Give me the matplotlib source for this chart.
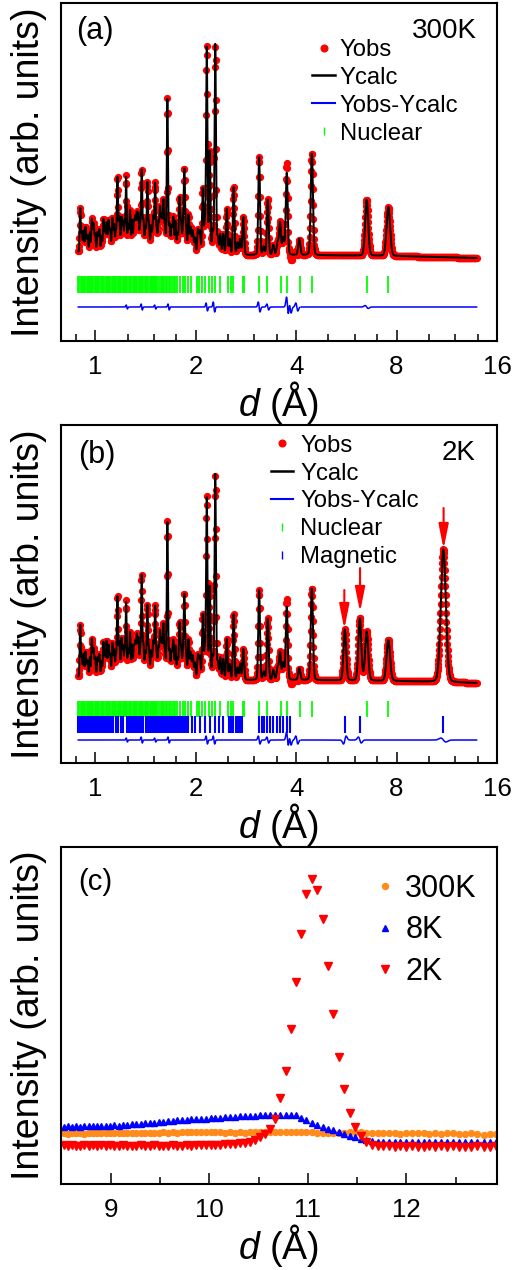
import numpy as np
import matplotlib
matplotlib.use("Agg")
import matplotlib.pyplot as plt
from matplotlib.lines import Line2D
from matplotlib.ticker import FixedLocator, FixedFormatter, NullFormatter

plt.rcParams['font.family'] = ['Liberation Sans', 'DejaVu Sans']
plt.rcParams['mathtext.fontset'] = 'custom'
plt.rcParams['mathtext.it'] = 'Liberation Sans:italic'
plt.rcParams['mathtext.rm'] = 'Liberation Sans'

# ---- panels (a)/(b): Rietveld fits, d-spacing in Angstrom ----
# main reflections: position, height at 300 K, height at 2 K
peak_d = [0.902, 0.923, 0.977, 1.000, 1.059, 1.082, 1.166, 1.200, 1.238, 1.273,
          1.333, 1.379, 1.434, 1.513, 1.565, 1.600, 1.646, 1.716, 1.789, 1.850,
          1.904, 1.962, 2.100, 2.160, 2.205, 2.290, 2.370, 2.480, 2.600, 2.780,
          3.100, 3.290, 3.580, 3.660, 3.750, 4.090, 4.460, 6.510, 7.560]
peak_300K = [44, 22, 30, 18, 22, 30, 74, 30, 75, 39,
             39, 80, 70, 67, 45, 49, 154, 32, 50, 80,
             39, 22, 65, 208, 102, 210, 20, 46, 68, 38,
             98, 56, 33, 17, 82, 16, 102, 56, 49]
peak_2K = [52, 24, 35, 19, 24, 37, 80, 34, 75, 42,
           42, 100, 72, 69, 46, 50, 156, 34, 50, 80,
           39, 22, 64, 182, 92, 205, 22, 41, 66, 31,
           90, 62, 28, 17, 73, 12, 92, 49, 41]
# magnetic peaks appearing at 2 K
mag_peak_d = [5.60, 6.21, 11.05]
mag_peak_2K = [51, 62, 133]
# weak overlapping reflections (low-d "forest")
weak_d = [0.912, 0.935, 0.950, 0.964, 0.990, 1.015, 1.030, 1.045, 1.070, 1.095,
          1.110, 1.125, 1.140, 1.153, 1.182, 1.212, 1.225, 1.255, 1.290, 1.305,
          1.320, 1.347, 1.362, 1.395, 1.412, 1.450, 1.470, 1.492, 1.530, 1.548,
          1.582, 1.620, 1.670, 1.692, 1.740, 1.765, 1.810, 1.832, 1.875, 1.930,
          1.990, 2.030, 2.060, 2.130, 2.250, 2.330, 2.420, 2.530, 2.670, 2.720,
          3.200, 3.420, 3.520]
weak_h = [20, 24, 16, 20, 26, 18, 22, 16, 24, 28,
          20, 32, 26, 20, 32, 30, 24, 26, 32, 24,
          30, 38, 22, 32, 20, 28, 24, 32, 22, 30,
          36, 22, 28, 24, 32, 20, 26, 22, 18, 24,
          16, 22, 20, 28, 22, 16, 20, 15, 12, 16,
          8, 10, 12]
weak2_d = [0.942, 0.983, 1.022, 1.058, 1.102, 1.132, 1.174, 1.194, 1.265, 1.312,
           1.370, 1.420, 1.480, 1.502, 1.610, 1.705, 1.798, 1.862, 1.945, 2.045]
weak2_h = [10, 12, 10, 12, 14, 10, 12, 10, 12, 14,
           10, 12, 10, 12, 10, 12, 10, 12, 8, 8]
# background knots
bg_d = [0.89, 1.5, 2.8, 4.1, 4.15, 8.0, 14.0]
bg_h = [6, 5, 3, 3, 3, 2, 0]
# Yobs-Ycalc misfits: position, amplitude
res_d_300K = [1.244, 1.379, 1.513, 1.66, 2.16, 2.27, 3.10, 3.29, 3.77, 3.84, 4.02, 6.51]
res_a_300K = [2, 3, 2, 3, 4, 5, 5, 3, 10, 6, 4, 1.5]
res_d_2K = [1.244, 1.379, 1.513, 1.66, 2.16, 2.27, 3.10, 3.29, 3.77, 3.84, 4.02, 5.60, 6.21, 11.05]
res_a_2K = [2, 3, 2, 3, 4, 4, 4, 3, 8, 5, 4, -4, 3, 2]
bank_gap = [4.10, 4.14]

# Bragg reflection markers
nuclear_d = [0.889, 0.897, 0.905, 0.912, 0.919, 0.927, 0.934, 0.942, 0.949, 0.957,
             0.964, 0.972, 0.980, 0.988, 0.996, 1.004, 1.013, 1.021, 1.030, 1.038,
             1.047, 1.056, 1.065, 1.074, 1.083, 1.092, 1.101, 1.110, 1.120, 1.129,
             1.139, 1.148, 1.158, 1.168, 1.178, 1.188, 1.198, 1.208, 1.218, 1.228,
             1.238, 1.246, 1.262, 1.272, 1.283, 1.294, 1.305, 1.316, 1.327, 1.338,
             1.349, 1.361, 1.372, 1.384, 1.395, 1.407, 1.418, 1.430, 1.441,
             1.455, 1.468, 1.478, 1.489, 1.500, 1.513, 1.525, 1.537, 1.558, 1.571,
             1.584, 1.596, 1.610, 1.632, 1.645, 1.659, 1.678, 1.697, 1.717, 1.736,
             1.764, 1.797, 1.830, 1.861, 1.904, 1.939, 2.017, 2.053, 2.087, 2.136,
             2.186, 2.236, 2.288, 2.368, 2.509, 2.549, 2.596, 2.770, 2.795, 3.099,
             3.283, 3.600, 3.751, 4.112, 4.457, 6.51, 7.56]
magnetic_d = [0.889, 0.898, 0.907, 0.916, 0.925, 0.934, 0.943, 0.952, 0.962, 0.972,
              0.982, 0.992, 1.002, 1.012, 1.022, 1.032, 1.042, 1.052, 1.063, 1.074,
              1.085, 1.096, 1.107, 1.114, 1.134, 1.156, 1.174, 1.196, 1.215, 1.244,
              1.258, 1.270, 1.283, 1.297, 1.310, 1.322, 1.336, 1.350, 1.365, 1.380,
              1.395, 1.420, 1.433, 1.446, 1.459, 1.472, 1.486, 1.500, 1.514, 1.528,
              1.542, 1.556, 1.568, 1.584, 1.603, 1.620, 1.640, 1.660, 1.677, 1.700,
              1.718, 1.740, 1.760, 1.785, 1.805, 1.830, 1.850, 1.875, 1.900, 1.948,
              1.992, 2.060, 2.136, 2.210, 2.288, 2.357, 2.420, 2.520, 2.560, 2.596,
              2.640, 2.687, 2.716, 2.745, 3.100, 3.156, 3.210, 3.270, 3.330, 3.420,
              3.500, 3.580, 3.660, 3.750, 3.840, 5.60, 6.21, 11.05]
arrow_d = [5.58, 6.22, 11.07]
arrow_tail = [93, 115, 175]
arrow_tip = [54, 71, 134]

x_ticks = [1, 2, 4, 8, 16]
x_minor = [0.875, 1.25, 1.5, 1.75, 2.5, 3, 3.5, 5, 6, 7, 10, 12, 14]

# ---- panel (c): zoom on the magnetic peak ----
c_d = [8.520, 8.562, 8.604, 8.646, 8.688, 8.731, 8.774, 8.817, 8.860, 8.903,
       8.947, 8.991, 9.035, 9.079, 9.124, 9.168, 9.213, 9.259, 9.304, 9.350,
       9.395, 9.441, 9.488, 9.534, 9.581, 9.628, 9.675, 9.722, 9.770, 9.818,
       9.866, 9.914, 9.963, 10.012, 10.061, 10.110, 10.160, 10.210, 10.260, 10.310,
       10.360, 10.411, 10.462, 10.513, 10.565, 10.617, 10.669, 10.721, 10.774, 10.826,
       10.879, 10.933, 10.986, 11.040, 11.094, 11.149, 11.203, 11.258, 11.313, 11.369,
       11.424, 11.480, 11.537, 11.593, 11.650, 11.707, 11.764, 11.822, 11.880, 11.938,
       11.997, 12.056, 12.115, 12.174, 12.234, 12.294, 12.354, 12.414, 12.475, 12.536,
       12.598, 12.659, 12.721, 12.784, 12.846, 12.909]
c_300K = [50.7, 50.4, 50.9, 50.6, 51.0, 50.5, 50.8, 51.1, 50.6, 50.9,
          51.0, 50.7, 51.2, 50.8, 51.1, 50.6, 51.0, 51.3, 50.9, 51.2,
          51.0, 51.4, 51.1, 51.6, 51.3, 51.8, 51.5, 51.9, 51.6, 52.0,
          51.7, 52.1, 51.8, 52.2, 51.6, 51.9, 51.5, 51.8, 51.4, 51.7,
          51.5, 51.9, 51.6, 52.0, 51.8, 52.2, 51.9, 52.3, 52.0, 52.2,
          51.9, 52.1, 51.8, 51.6, 51.3, 51.0, 50.8, 50.6, 50.9, 51.5,
          51.9, 52.2, 51.8, 51.4, 51.0, 50.7, 51.0, 50.6, 50.9, 50.5,
          50.8, 51.0, 50.6, 50.9, 50.5, 50.8, 50.4, 50.7, 50.9, 50.5,
          50.2, 50.6, 49.9, 49.5, 49.8, 49.6]
c_8K = [57.3, 57.6, 57.2, 57.8, 57.5, 57.9, 58.1, 57.8, 58.3, 58.0,
        58.4, 58.2, 58.7, 58.5, 59.0, 59.3, 59.6, 59.9, 60.3, 60.6,
        61.0, 61.4, 61.9, 62.3, 62.8, 63.2, 63.7, 64.0, 64.3, 64.6,
        64.8, 65.1, 65.4, 65.8, 66.0, 66.4, 66.7, 67.0, 67.4, 67.6,
        67.9, 68.2, 68.4, 68.6, 68.9, 69.3, 69.5, 69.4, 69.2, 69.3,
        68.8, 66.5, 64.0, 61.5, 59.2, 57.3, 55.5, 53.6, 51.7, 49.8,
        48.0, 46.6, 45.2, 44.0, 43.0, 42.4, 42.1, 42.3, 41.9, 42.2,
        42.0, 42.3, 41.8, 42.1, 42.4, 41.9, 42.2, 42.0, 41.8, 42.2,
        42.0, 41.7, 42.1, 41.9, 42.2, 41.8]
c_2K = [38.8, 38.3, 38.9, 38.5, 38.2, 38.7, 38.4, 38.9, 38.3, 38.6,
        38.2, 38.7, 38.4, 38.0, 38.6, 38.3, 38.5, 38.1, 38.7, 38.4,
        38.2, 38.6, 38.3, 38.5, 38.1, 38.7, 38.4, 38.2, 38.8, 38.5,
        38.6, 38.9, 38.7, 39.2, 39.0, 39.4, 39.7, 40.0, 40.4, 40.9,
        41.5, 42.3, 44.5, 47.0, 50.5, 55.0, 65.5, 86.0, 113.0, 155.0,
        202.0, 250.0, 290.0, 305.0, 294.0, 265.0, 218.0, 170.0, 127.0, 95.0,
        71.5, 57.3, 48.5, 42.5, 39.5, 38.3, 37.6, 37.9, 37.4, 37.8,
        37.3, 37.7, 37.5, 37.2, 37.8, 37.4, 37.6, 37.1, 37.7, 37.3,
        37.5, 37.2, 37.8, 37.4, 37.1, 37.6]
c_ticks = [9, 10, 11, 12]
c_minor = [9.5, 10.5, 11.5, 12.5]

RED = '#ff0000'
GREEN = '#00ff00'
BLUE = '#0000ff'
ORANGE = '#ff8c1a'


def sigma(c):
    c = np.asarray(c, dtype=float)
    return np.sqrt(0.008 ** 2 + (0.0036 * c) ** 2) / 2.3548


def profile(d, centers, heights, lor=0.1):
    c = np.asarray(centers, dtype=float)[None, :]
    h = np.asarray(heights, dtype=float)[None, :]
    u = np.log(d[:, None] / c) / sigma(c)
    shape = (1 - lor) * np.exp(-0.5 * u ** 2) + lor / (1 + (u / 1.1774) ** 2)
    return (h * shape).sum(axis=1)


def misfit(d, centers, amps):
    c = np.asarray(centers, dtype=float)[None, :]
    a = np.asarray(amps, dtype=float)[None, :]
    u = np.log(d[:, None] / c) / sigma(c)
    return (a * (-u) * np.exp(-0.5 * u ** 2) / 0.6065).sum(axis=1)


d = np.geomspace(0.89, 13.9, 1400)
bg = np.interp(np.log(d), np.log(bg_d), bg_h)
forest = profile(d, weak_d, weak_h, lor=0.0) + profile(d, weak2_d, weak2_h, lor=0.0)

calc_300K = bg + profile(d, peak_d, peak_300K) + forest
calc_2K = bg + profile(d, peak_d, peak_2K) + forest + profile(d, mag_peak_d, mag_peak_2K)
diff_300K = misfit(d, res_d_300K, res_a_300K)
diff_2K = misfit(d, res_d_2K, res_a_2K)
obs_300K = calc_300K + diff_300K
obs_2K = calc_2K + diff_2K
gap = (d > bank_gap[0]) & (d < bank_gap[1])
diff_300K[gap] = np.nan
diff_2K[gap] = np.nan

fig = plt.figure(figsize=(5.14, 12.70), dpi=100)
ax_a = fig.add_axes([0.1187, 0.7315, 0.8482, 0.2661])
ax_b = fig.add_axes([0.1187, 0.3992, 0.8482, 0.2661])
ax_c = fig.add_axes([0.1187, 0.0677, 0.8482, 0.2654])

LABEL_FS = 27
TICK_FS = 18.6
LEG_FS = 17.2


def style_axes(ax):
    for sp in ax.spines.values():
        sp.set_linewidth(1.5)
    ax.set_yticks([])
    ax.tick_params(axis='x', which='major', direction='in', length=8, width=1.1,
                   labelsize=TICK_FS, pad=10, top=False)
    ax.tick_params(axis='x', which='minor', direction='in', length=5, width=1.1, top=False)
    ax.set_ylabel('Intensity (arb. units)', fontsize=LABEL_FS)
    ax.yaxis.set_label_coords(-0.032, 0.5)
    ax.set_xlabel(r'$\mathit{d}$ (Å)', fontsize=LABEL_FS, labelpad=0)


def pattern_axes(ax, obs, calc, diff, diff_off, ylim):
    ax.set_xscale('log', base=2)
    ax.plot(d, obs, 'o', ls='none', ms=4.2, color=RED, mec=RED, zorder=2)
    ax.plot(d, calc, '-', color='black', lw=1.4, zorder=3)
    ax.plot(d, diff + diff_off, '-', color=BLUE, lw=1.1, zorder=3)
    ax.set_xlim(0.79, 16)
    ax.set_ylim(*ylim)
    ax.xaxis.set_major_locator(FixedLocator(x_ticks))
    ax.xaxis.set_major_formatter(FixedFormatter([str(t) for t in x_ticks]))
    ax.xaxis.set_minor_locator(FixedLocator(x_minor))
    ax.xaxis.set_minor_formatter(NullFormatter())
    style_axes(ax)


h_obs = Line2D([], [], ls='none', marker='o', ms=4.8, color=RED)
h_calc = Line2D([], [], color='black', lw=1.8)
h_diff = Line2D([], [], color=BLUE, lw=1.5)
h_nuc = Line2D([], [], ls='none', marker='|', ms=6, mew=1.0, color=GREEN)
h_mag = Line2D([], [], ls='none', marker='|', ms=6, mew=1.0, color=BLUE)

# (a) 300 K
pattern_axes(ax_a, obs_300K, calc_300K, diff_300K, -49, (-83, 255))
ax_a.vlines(nuclear_d, -35, -18, color=GREEN, lw=1.3, zorder=2)
ax_a.legend([h_obs, h_calc, h_diff, h_nuc], ['Yobs', 'Ycalc', 'Yobs-Ycalc', 'Nuclear'],
            loc='upper left', bbox_to_anchor=(0.576, 0.894), frameon=False,
            fontsize=LEG_FS, borderpad=0, borderaxespad=0, handlelength=0.96,
            handletextpad=0.2, labelspacing=0.25)
ax_a.text(0.078, 0.917, '(a)', transform=ax_a.transAxes, fontsize=22,
          ha='center', va='center')
ax_a.text(0.954, 0.917, '300K', transform=ax_a.transAxes, fontsize=20,
          ha='right', va='center')

# (b) 2 K
pattern_axes(ax_b, obs_2K, calc_2K, diff_2K, -57, (-80, 258))
ax_b.vlines(nuclear_d, -34, -18, color=GREEN, lw=1.3, zorder=2)
ax_b.vlines(magnetic_d, -50, -33, color=BLUE, lw=1.5, zorder=2)
for xd, y0, y1 in zip(arrow_d, arrow_tail, arrow_tip):
    ax_b.annotate('', xy=(xd, y1), xytext=(xd, y0),
                  arrowprops=dict(arrowstyle='-|>,head_length=0.75,head_width=0.15',
                                  color=RED, lw=1.5, mutation_scale=20,
                                  shrinkA=0, shrinkB=0), zorder=4)
ax_b.legend([h_obs, h_calc, h_diff, h_nuc, h_mag],
            ['Yobs', 'Ycalc', 'Yobs-Ycalc', 'Nuclear', 'Magnetic'],
            loc='upper left', bbox_to_anchor=(0.482, 0.972), frameon=False,
            fontsize=LEG_FS, borderpad=0, borderaxespad=0, handlelength=0.92,
            handletextpad=0.29, labelspacing=0.25)
ax_b.text(0.083, 0.911, '(b)', transform=ax_b.transAxes, fontsize=22,
          ha='center', va='center')
ax_b.text(0.950, 0.917, '2K', transform=ax_b.transAxes, fontsize=20,
          ha='right', va='center')

# (c) zoom on magnetic peak
ax_c.plot(c_d, c_300K, 'o', ls='none', ms=4.3, color=ORANGE, label='300K')
ax_c.plot(c_d, c_8K, '^', ls='none', ms=5.0, color=BLUE, label='8K')
ax_c.plot(c_d, c_2K, 'v', ls='none', ms=5.5, color=RED, label='2K')
ax_c.set_xlim(8.494, 12.92)
ax_c.set_ylim(0, 337)
ax_c.xaxis.set_major_locator(FixedLocator(c_ticks))
ax_c.xaxis.set_major_formatter(FixedFormatter([str(t) for t in c_ticks]))
ax_c.xaxis.set_minor_locator(FixedLocator(c_minor))
style_axes(ax_c)
ax_c.legend(loc='upper left', bbox_to_anchor=(0.709, 0.921), frameon=False,
            fontsize=22, borderpad=0, borderaxespad=0, handlelength=1.0,
            handletextpad=0.15, labelspacing=0.38)
ax_c.text(0.078, 0.896, '(c)', transform=ax_c.transAxes, fontsize=21,
          ha='center', va='center')

fig.savefig('out.png', dpi=100)
